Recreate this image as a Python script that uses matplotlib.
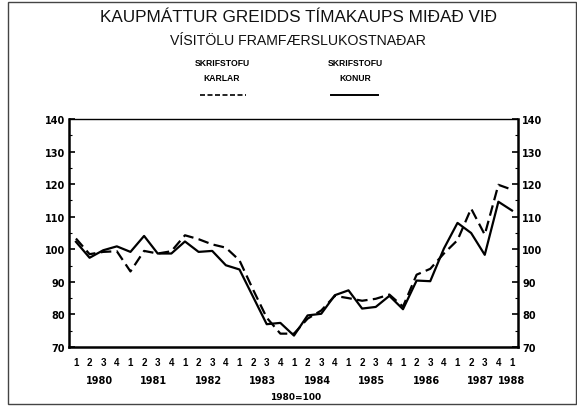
import matplotlib
matplotlib.use("Agg")
import matplotlib.pyplot as plt
from matplotlib.patches import Rectangle
from matplotlib.ticker import MultipleLocator

# Quarterly real hourly wage index, 1980 = 100
quarters = ["1", "2", "3", "4"] * 8 + ["1"]
years = ["1980", "1981", "1982", "1983", "1984", "1985", "1986", "1987", "1988"]

karlar = [103.3, 98.5, 99.2, 99.4, 93.2, 99.5, 98.7, 99.4, 104.3, 103.1, 101.5,
          100.5, 96.6, 87.6, 79.0, 74.1, 74.1, 78.7, 81.2, 85.7, 85.0, 84.2,
          84.8, 86.1, 82.4, 92.2, 94.0, 98.7, 102.8, 112.5, 104.5, 119.8, 118.3]
konur = [102.3, 97.4, 99.7, 100.9, 99.2, 104.1, 98.7, 98.7, 102.4, 99.2, 99.5,
         95.1, 93.8, 85.4, 77.0, 77.4, 73.5, 79.7, 80.2, 85.9, 87.4, 81.8,
         82.3, 85.7, 81.6, 90.4, 90.2, 100.2, 108.1, 105.0, 98.3, 114.6, 111.9]

title1 = "KAUPMÁTTUR GREIDDS TÍMAKAUPS MIÐAÐ VIÐ"
title2 = "VÍSITÖLU FRAMFÆRSLUKOSTNAÐAR"
legend_karlar = "SKRIFSTOFU\nKARLAR"
legend_konur = "SKRIFSTOFU\nKONUR"
base_note = "1980=100"

W, H = 577, 410
fig = plt.figure(figsize=(W / 100, H / 100), dpi=100)
fig.patch.set_facecolor("white")

def fx(px):
    return px / W

def fy(py):
    return 1 - py / H

# outer frame
fig.add_artist(Rectangle((fx(8), fy(405)), fx(568), 402 / H, transform=fig.transFigure,
                         fill=False, edgecolor="#444444", linewidth=1.0))

ax_l, ax_r, ax_t, ax_b = 69, 518, 120, 348
ax = fig.add_axes([fx(ax_l), fy(ax_b), fx(ax_r - ax_l), (ax_b - ax_t) / H])

x = list(range(len(quarters)))
ax.plot(x, karlar, color="black", linewidth=1.6, linestyle=(0, (4.8, 2.4)))
ax.plot(x, konur, color="black", linewidth=1.6)

ax.set_xlim(-0.51, 32.44)
ax.set_ylim(70, 140)
for s in ax.spines.values():
    s.set_linewidth(1.8)
ax.spines["top"].set_linewidth(1.0)

ax.yaxis.set_major_locator(MultipleLocator(10))
ax.yaxis.set_minor_locator(MultipleLocator(5))
ax.tick_params(axis="y", which="major", direction="in", length=4, width=1.2,
               left=True, right=True, labelleft=True, labelright=True,
               labelsize=7, pad=3)
ax.tick_params(axis="y", which="minor", direction="in", length=2, width=0.8,
               left=True, right=True)
for lab in ax.get_yticklabels():
    lab.set_fontfamily("Liberation Sans Narrow")
    lab.set_fontweight("bold")

ax.set_xticks(x)
ax.set_xticklabels(quarters, fontsize=7, fontweight="bold", family="Liberation Sans")
ax.tick_params(axis="x", length=0, pad=7)

# year labels under the quarter numbers
for k, yr in enumerate(years):
    pos = 4 * k + 1.7 if k < len(years) - 1 else 4 * k
    ax.text(pos, -0.145, yr, transform=ax.get_xaxis_transform(), ha="center",
            va="center", fontsize=7, fontweight="bold", family="Liberation Sans Narrow")

fig.text(fx(296), fy(398), base_note, ha="center", va="center", fontsize=6.5,
         fontweight="bold", family="Liberation Sans Narrow")

# titles
fig.text(fx(298), fy(18), title1, ha="center", va="center", fontsize=12.3,
         family="Liberation Sans", color="#111111")
fig.text(fx(298), fy(41), title2, ha="center", va="center", fontsize=10.2,
         family="Liberation Sans", color="#111111")

# legend
fig.text(fx(222), fy(71), legend_karlar, ha="center", va="center", fontsize=6.2,
         fontweight="bold", family="Liberation Sans", linespacing=1.9)
fig.text(fx(355), fy(71), legend_konur, ha="center", va="center", fontsize=6.2,
         fontweight="bold", family="Liberation Sans", linespacing=1.9)
fig.add_artist(plt.Line2D([fx(200), fx(246)], [fy(96), fy(96)], color="black",
                          linewidth=1.2, linestyle=(0, (3, 1.5))))
fig.add_artist(plt.Line2D([fx(331), fx(378)], [fy(96), fy(96)], color="black",
                          linewidth=1.4))

fig.savefig("out.png", dpi=100)
